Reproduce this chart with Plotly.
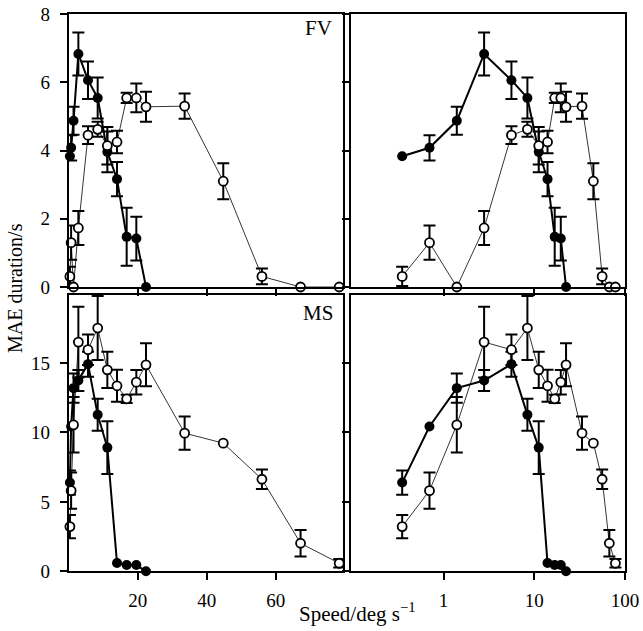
import plotly.graph_objects as go

# ---------------- data ----------------
speeds_filled = [0.35, 0.7, 1.4, 2.8, 5.6, 8.4, 11.2, 14, 16.8, 19.6, 22.4]
speeds_open = [0.35, 0.7, 1.4, 2.8, 5.6, 8.4, 11.2, 14, 16.8, 19.6, 22.4,
               33.6, 44.8, 56, 67.2, 78.4]

fv_filled = [3.83, 4.08, 4.87, 6.83, 6.06, 5.54, 3.96, 3.16, 1.47, 1.42, 0]
fv_filled_err = [0, 0.37, 0.41, 0.63, 0.55, 0.6, 0.6, 0.5, 0.85, 0.64, 0]
fv_open = [0.31, 1.30, 0, 1.73, 4.45, 4.62, 4.14, 4.25, 5.54, 5.54, 5.28,
           5.30, 3.10, 0.31, 0, 0]
fv_open_err = [0.28, 0.5, 0, 0.5, 0.26, 0.22, 0.55, 0.33, 0.15, 0.42, 0.44,
               0.37, 0.53, 0.23, 0, 0]

ms_filled = [6.39, 10.43, 13.19, 13.74, 14.92, 11.27, 8.91, 0.6, 0.45, 0.45, 0]
ms_filled_err = [0.87, 0, 1.05, 0.75, 0.9, 1.15, 1.9, 0, 0, 0, 0]
ms_open = [3.22, 5.81, 10.55, 16.51, 15.96, 17.52, 14.51, 13.36, 12.42, 13.62,
           14.87, 9.95, 9.23, 6.63, 2.02, 0.58]
ms_open_err = [0.84, 1.3, 2.0, 2.55, 1.1, 2.3, 1.3, 1.15, 0.3, 0.88, 1.55,
               1.2, 0, 0.7, 0.95, 0.3]

fv_yticks = [0, 2, 4, 6, 8]
ms_yticks = [0, 5, 10, 15]
lin_xticks = [20, 40, 60]
log_xticks = [1, 10, 100]
log_xtext = ["1", "10", "100"]

FONT = "Liberation Serif"
W, H = 643, 631


def px(v):
    return v / W


def py(v):
    return 1 - v / H


fig = go.Figure()


def add_errors(xa, ya, xs, ys, es):
    # error bars only where an error was shown
    sel = [i for i, e in enumerate(es) if e > 0]
    fig.add_trace(go.Scatter(
        x=[xs[i] for i in sel], y=[ys[i] for i in sel], xaxis=xa, yaxis=ya,
        mode="markers", marker=dict(size=1, opacity=0),
        error_y=dict(type="data", array=[es[i] for i in sel], symmetric=True,
                     color="black", thickness=2, width=6),
        cliponaxis=False, showlegend=False, hoverinfo="skip"))


def add_pair(xa, ya, yf, yfe, yo, yoe):
    add_errors(xa, ya, speeds_filled, yf, yfe)
    fig.add_trace(go.Scatter(
        x=speeds_filled, y=yf, xaxis=xa, yaxis=ya, mode="lines+markers",
        line=dict(color="black", width=2),
        marker=dict(symbol="circle", size=10, color="black"),
        cliponaxis=False, showlegend=False, hoverinfo="skip"))
    add_errors(xa, ya, speeds_open, yo, yoe)
    fig.add_trace(go.Scatter(
        x=speeds_open, y=yo, xaxis=xa, yaxis=ya, mode="lines+markers",
        line=dict(color="black", width=0.8),
        marker=dict(symbol="circle", size=9, color="white",
                    line=dict(color="black", width=1.8)),
        cliponaxis=False, showlegend=False, hoverinfo="skip"))


add_pair("x", "y", fv_filled, fv_filled_err, fv_open, fv_open_err)
add_pair("x2", "y2", fv_filled, fv_filled_err, fv_open, fv_open_err)
add_pair("x3", "y3", ms_filled, ms_filled_err, ms_open, ms_open_err)
add_pair("x4", "y4", ms_filled, ms_filled_err, ms_open, ms_open_err)

# panel domains (reference pixel positions)
lx = [px(68.7), px(343)]
rx = [px(351), px(625)]
ty = [py(287), py(14)]
by = [py(571.3), py(295)]

axis_common = dict(showline=True, linecolor="black", linewidth=2,
                   mirror=True, ticks="outside", ticklen=7, tickwidth=2,
                   tickcolor="black", showgrid=False, zeroline=False,
                   automargin=False, ticklabeloverflow="allow",
                   tickfont=dict(family=FONT, size=19, color="black"))

fig.update_layout(
    width=W, height=H,
    margin=dict(l=0, r=0, t=0, b=0, pad=0, autoexpand=False),
    paper_bgcolor="white", plot_bgcolor="white",
    xaxis=dict(domain=lx, anchor="y", range=[0, 79.5], tickvals=lin_xticks,
               showticklabels=False, **axis_common),
    yaxis=dict(domain=ty, anchor="x", range=[0, 8], tickvals=fv_yticks,
               ticklabelstandoff=6, **axis_common),
    xaxis2=dict(domain=rx, anchor="y2", type="log", range=[-1.02, 2.0],
                tickvals=log_xticks, showticklabels=False, **axis_common),
    yaxis2=dict(domain=ty, anchor="x2", range=[0, 8], tickvals=fv_yticks,
                showticklabels=False, **axis_common),
    xaxis3=dict(domain=lx, anchor="y3", range=[0, 79.5], tickvals=lin_xticks,
                ticklabelstandoff=4, **axis_common),
    yaxis3=dict(domain=by, anchor="x3", range=[0, 19.9], tickvals=ms_yticks,
                ticklabelstandoff=6, **axis_common),
    xaxis4=dict(domain=rx, anchor="y4", type="log", range=[-1.02, 2.0],
                tickvals=log_xticks, ticktext=log_xtext, ticklabelstandoff=4,
                **axis_common),
    yaxis4=dict(domain=by, anchor="x4", range=[0, 19.9], tickvals=ms_yticks,
                showticklabels=False, **axis_common),
    hovermode=False,
)

fig.add_annotation(text="FV", xref="paper", yref="paper", x=px(318),
                   y=py(28), xanchor="center", yanchor="middle",
                   showarrow=False, font=dict(family=FONT, size=21, color="black"))
fig.add_annotation(text="MS", xref="paper", yref="paper", x=px(318),
                   y=py(313), xanchor="center", yanchor="middle",
                   showarrow=False, font=dict(family=FONT, size=21, color="black"))
fig.add_annotation(text="MAE duration/s", xref="paper", yref="paper",
                   x=px(15), y=py(288), textangle=-90, xanchor="center",
                   yanchor="middle", showarrow=False,
                   font=dict(family=FONT, size=20, color="black"))
fig.add_annotation(text="Speed/deg s<sup>−1</sup>", xref="paper", yref="paper",
                   x=px(357), y=py(612), xanchor="center",
                   yanchor="middle", showarrow=False,
                   font=dict(family=FONT, size=21, color="black"))

fig.write_html("out.html", config={"displayModeBar": False},
               post_script="document.body.style.margin='0px';"
                           "document.body.style.overflow='hidden';")
